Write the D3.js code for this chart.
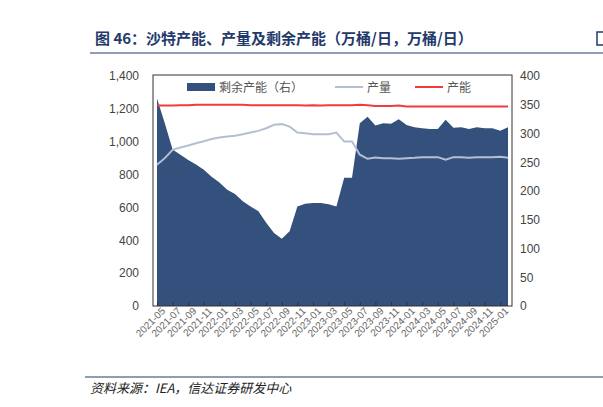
<!DOCTYPE html>
<html><head><meta charset="utf-8">
<script src="https://cdn.jsdelivr.net/npm/d3@7/dist/d3.min.js"></script>
<style>body{margin:0;background:#fff;font-family:"Noto Sans CJK SC","Noto Sans",sans-serif}</style>
</head><body><svg id="c" width="603" height="407"></svg>
<script>
const months = ["2021-05","2021-06","2021-07","2021-08","2021-09","2021-10","2021-11","2021-12","2022-01","2022-02","2022-03","2022-04","2022-05","2022-06","2022-07","2022-08","2022-09","2022-10","2022-11","2022-12","2023-01","2023-02","2023-03","2023-04","2023-05","2023-06","2023-07","2023-08","2023-09","2023-10","2023-11","2023-12","2024-01","2024-02","2024-03","2024-04","2024-05","2024-06","2024-07","2024-08","2024-09","2024-10","2024-11","2024-12","2025-01","2025-02"];
const production = [860,900,951,965,977,991,1003,1016,1026,1032,1036,1046,1056,1066,1082,1103,1107,1092,1056,1052,1046,1046,1046,1056,1001,1001,921,896,904,900,900,896,900,902,906,906,906,890,906,906,902,906,906,906,908,902];
const capacity = [1220,1220,1220,1222,1222,1225,1225,1225,1225,1225,1225,1225,1222,1222,1222,1222,1222,1222,1222,1220,1222,1220,1222,1222,1222,1222,1225,1222,1218,1218,1218,1220,1215,1215,1215,1215,1215,1215,1215,1215,1215,1215,1215,1215,1215,1215];
const spare = [361,318,272,263,254,246,237,225,215,202,195,182,173,165,145,127,117,130,173,178,179,179,177,173,223,223,318,329,314,318,317,325,315,311,309,308,308,324,310,311,308,311,309,309,305,311];
const leftTicks = [0,200,400,600,800,1000,1200,1400];
const rightTicks = [0,50,100,150,200,250,300,350,400];

const svg = d3.select("#c");
const L=157,R=508,T=76,B=306;
const x = d3.scalePoint().domain(months).range([L,R]);
const yL = d3.scaleLinear().domain([0,1400]).range([B,T]);
const yR = d3.scaleLinear().domain([0,400]).range([B,T]);

// title
svg.append("text").attr("x",95).attr("y",44).attr("font-size",15).attr("font-weight","bold").attr("fill","#1f3a6b").text("图 46：沙特产能、产量及剩余产能（万桶/日，万桶/日）");
svg.append("line").attr("x1",90).attr("x2",603).attr("y1",53).attr("y2",53).attr("stroke","#1f3a6b").attr("stroke-width",1.2);
svg.append("rect").attr("x",597).attr("y",32).attr("width",8).attr("height",13).attr("fill","none").attr("stroke","#1f3a6b").attr("stroke-width",1.5);

// area
svg.append("path").datum(spare).attr("fill","#34507c")
 .attr("d",d3.area().x((d,i)=>x(months[i])).y0(B).y1(d=>yR(d)));
svg.append("path").datum(production).attr("fill","none").attr("stroke","#b4c0d2").attr("stroke-width",2)
 .attr("d",d3.line().x((d,i)=>x(months[i])).y(d=>yL(d)));
svg.append("path").datum(capacity).attr("fill","none").attr("stroke","#f03c3c").attr("stroke-width",2)
 .attr("d",d3.line().x((d,i)=>x(months[i])).y(d=>yL(d)));

// frame
svg.append("rect").attr("x",L-4).attr("y",T-1).attr("width",R-L+8).attr("height",B-T+1).attr("fill","none").attr("stroke","#333").attr("stroke-width",1);

// axes
const gl = svg.append("g").attr("transform",`translate(${L-4},0)`).call(d3.axisLeft(yL).tickValues(leftTicks).tickSize(0).tickPadding(14));
const gr = svg.append("g").attr("transform",`translate(${R+4},0)`).call(d3.axisRight(yR).tickValues(rightTicks).tickSize(0).tickPadding(8));
[gl,gr].forEach(g=>{g.select(".domain").remove();g.selectAll("text").attr("font-size",12).attr("fill","#444").attr("font-family","Liberation Sans, Arial");});
const labelMonths = months.filter((m,i)=>i%2===0);
const gx = svg.append("g").attr("transform",`translate(0,${B})`).call(d3.axisBottom(x).tickValues(labelMonths).tickSize(-4).tickPadding(4));
gx.select(".domain").remove();
gx.selectAll("line").attr("stroke","#333");
gx.selectAll("text").attr("font-size",10).attr("fill","#666").attr("font-family","Liberation Sans, Arial")
 .attr("text-anchor","end").attr("dx","2").attr("dy","0.6em").attr("transform","rotate(-45)");

// legend
const lg = svg.append("g");
lg.append("rect").attr("x",187).attr("y",83).attr("width",28).attr("height",8).attr("fill","#34507c");
lg.append("text").attr("x",219).attr("y",92).attr("font-size",12).attr("fill","#555").text("剩余产能（右）");
lg.append("line").attr("x1",335).attr("x2",363).attr("y1",87).attr("y2",87).attr("stroke","#b4c0d2").attr("stroke-width",2);
lg.append("text").attr("x",367).attr("y",92).attr("font-size",12).attr("fill","#555").text("产量");
lg.append("line").attr("x1",415).attr("x2",443).attr("y1",87).attr("y2",87).attr("stroke","#f03c3c").attr("stroke-width",2);
lg.append("text").attr("x",447).attr("y",92).attr("font-size",12).attr("fill","#555").text("产能");

// footer
svg.append("line").attr("x1",85).attr("x2",603).attr("y1",377).attr("y2",377).attr("stroke","#1f3a6b").attr("stroke-width",1);
svg.append("text").attr("x",90).attr("y",393).attr("font-size",13).attr("font-style","italic").attr("fill","#222").text("资料来源：IEA，信达证券研发中心");
</script></body></html>
